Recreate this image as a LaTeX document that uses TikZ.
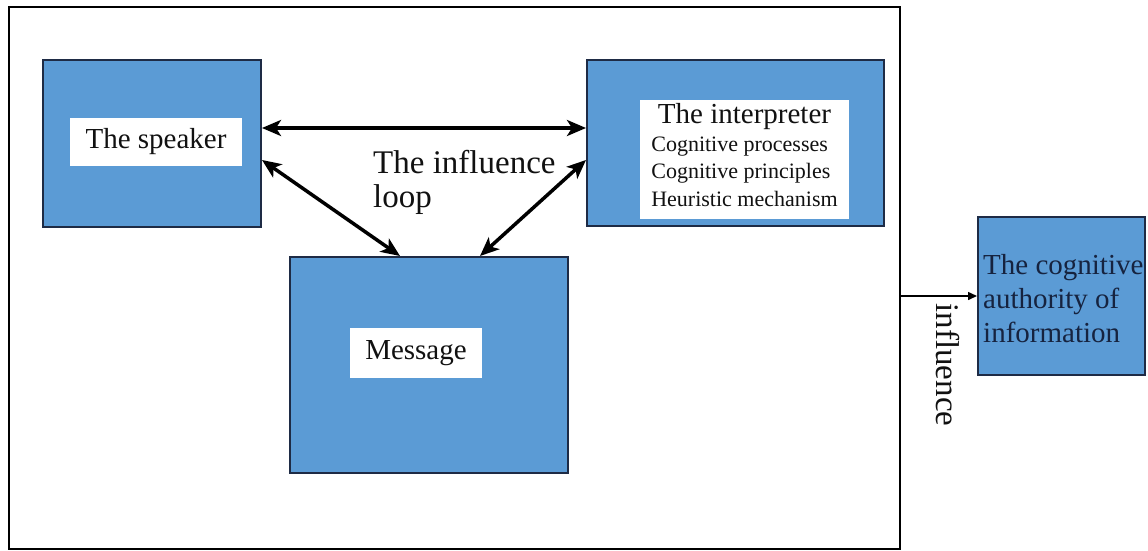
\documentclass[tikz,border=0pt]{standalone}
\usepackage{fontspec}
\setmainfont{Liberation Serif}
\usetikzlibrary{arrows.meta,calc}

\definecolor{boxblue}{HTML}{5B9BD5}
\definecolor{boxedge}{HTML}{1E2B45}
\definecolor{navytext}{HTML}{16233F}
\definecolor{labeltext}{HTML}{111111}

\tikzset{
  bluebox/.style={draw=boxedge, line width=2pt, fill=boxblue, inner sep=0pt},
  whitelabel/.style={fill=white, inner sep=0pt, text=labeltext, font=\fontsize{29}{34}\selectfont},
  bigtip/.tip={Stealth[length=19pt,width=16pt,inset=5pt]},
  bigarrow/.style={line width=3.5pt, bigtip-bigtip},
  thinarrow/.style={line width=1.5pt, -{Triangle[length=9pt,width=8pt]}},
}

\begin{document}
\begin{tikzpicture}[x=1pt,y=-1pt]
  \useasboundingbox (0,0) rectangle (1148,551);

  % enclosing frame
  \node[draw=black, line width=2.5pt, minimum width=891pt, minimum height=542pt, inner sep=0pt]
    (frame) at (454.5,278) {};

  % the three participants
  \node[bluebox, minimum width=218pt, minimum height=167pt] (speaker) at (152,143.5) {};
  \node[whitelabel, minimum width=172pt, minimum height=48pt] (speakerlbl) at (156,142) {The speaker};

  \node[bluebox, minimum width=297pt, minimum height=166pt] (interp) at (735.5,143) {};
  \node[whitelabel, minimum width=209pt, minimum height=119pt] (interplbl) at (744.5,159)
    {\fontsize{22}{27.5}\selectfont
     \begin{tabular}{@{}l@{}}
       \multicolumn{1}{@{}c@{}}{\fontsize{29}{34}\selectfont The interpreter}\\
       Cognitive processes\\
       Cognitive principles\\
       Heuristic mechanism
     \end{tabular}};

  \node[bluebox, minimum width=278pt, minimum height=216pt] (msg) at (429,365) {};
  \node[whitelabel, minimum width=132pt, minimum height=50pt] (msglbl) at (416,353) {Message};

  % outcome box
  \node[bluebox, minimum width=167pt, minimum height=158pt] (ca) at (1061.5,296) {};
  \node[anchor=west, align=left, inner sep=0pt, text=navytext,
        font=\fontsize{29}{34}\selectfont] (catext) at (983,299)
    {The cognitive\\authority of\\information};

  % loop label
  \node[anchor=west, align=left, inner sep=0pt, text=labeltext,
        font=\fontsize{33}{34}\selectfont] (looplbl) at (373,182)
    {The influence\\loop};

  % influence loop connectors
  \draw[bigarrow] (speaker.east |- 0,128) -- (interp.west |- 0,128);
  \draw[bigarrow] (speaker.east |- 0,160) -- (msg.north -| 400,0);
  \draw[bigarrow] (interp.west |- 0,160) -- (msg.north -| 480,0);

  % influence on the outcome
  \draw[thinarrow] (frame.east |- ca.west) -- (ca.west);
  \node[rotate=-90, inner sep=0pt, text=labeltext, font=\fontsize{33}{34}\selectfont]
    (inflbl) at (948,365) {influence};
\end{tikzpicture}
\end{document}
